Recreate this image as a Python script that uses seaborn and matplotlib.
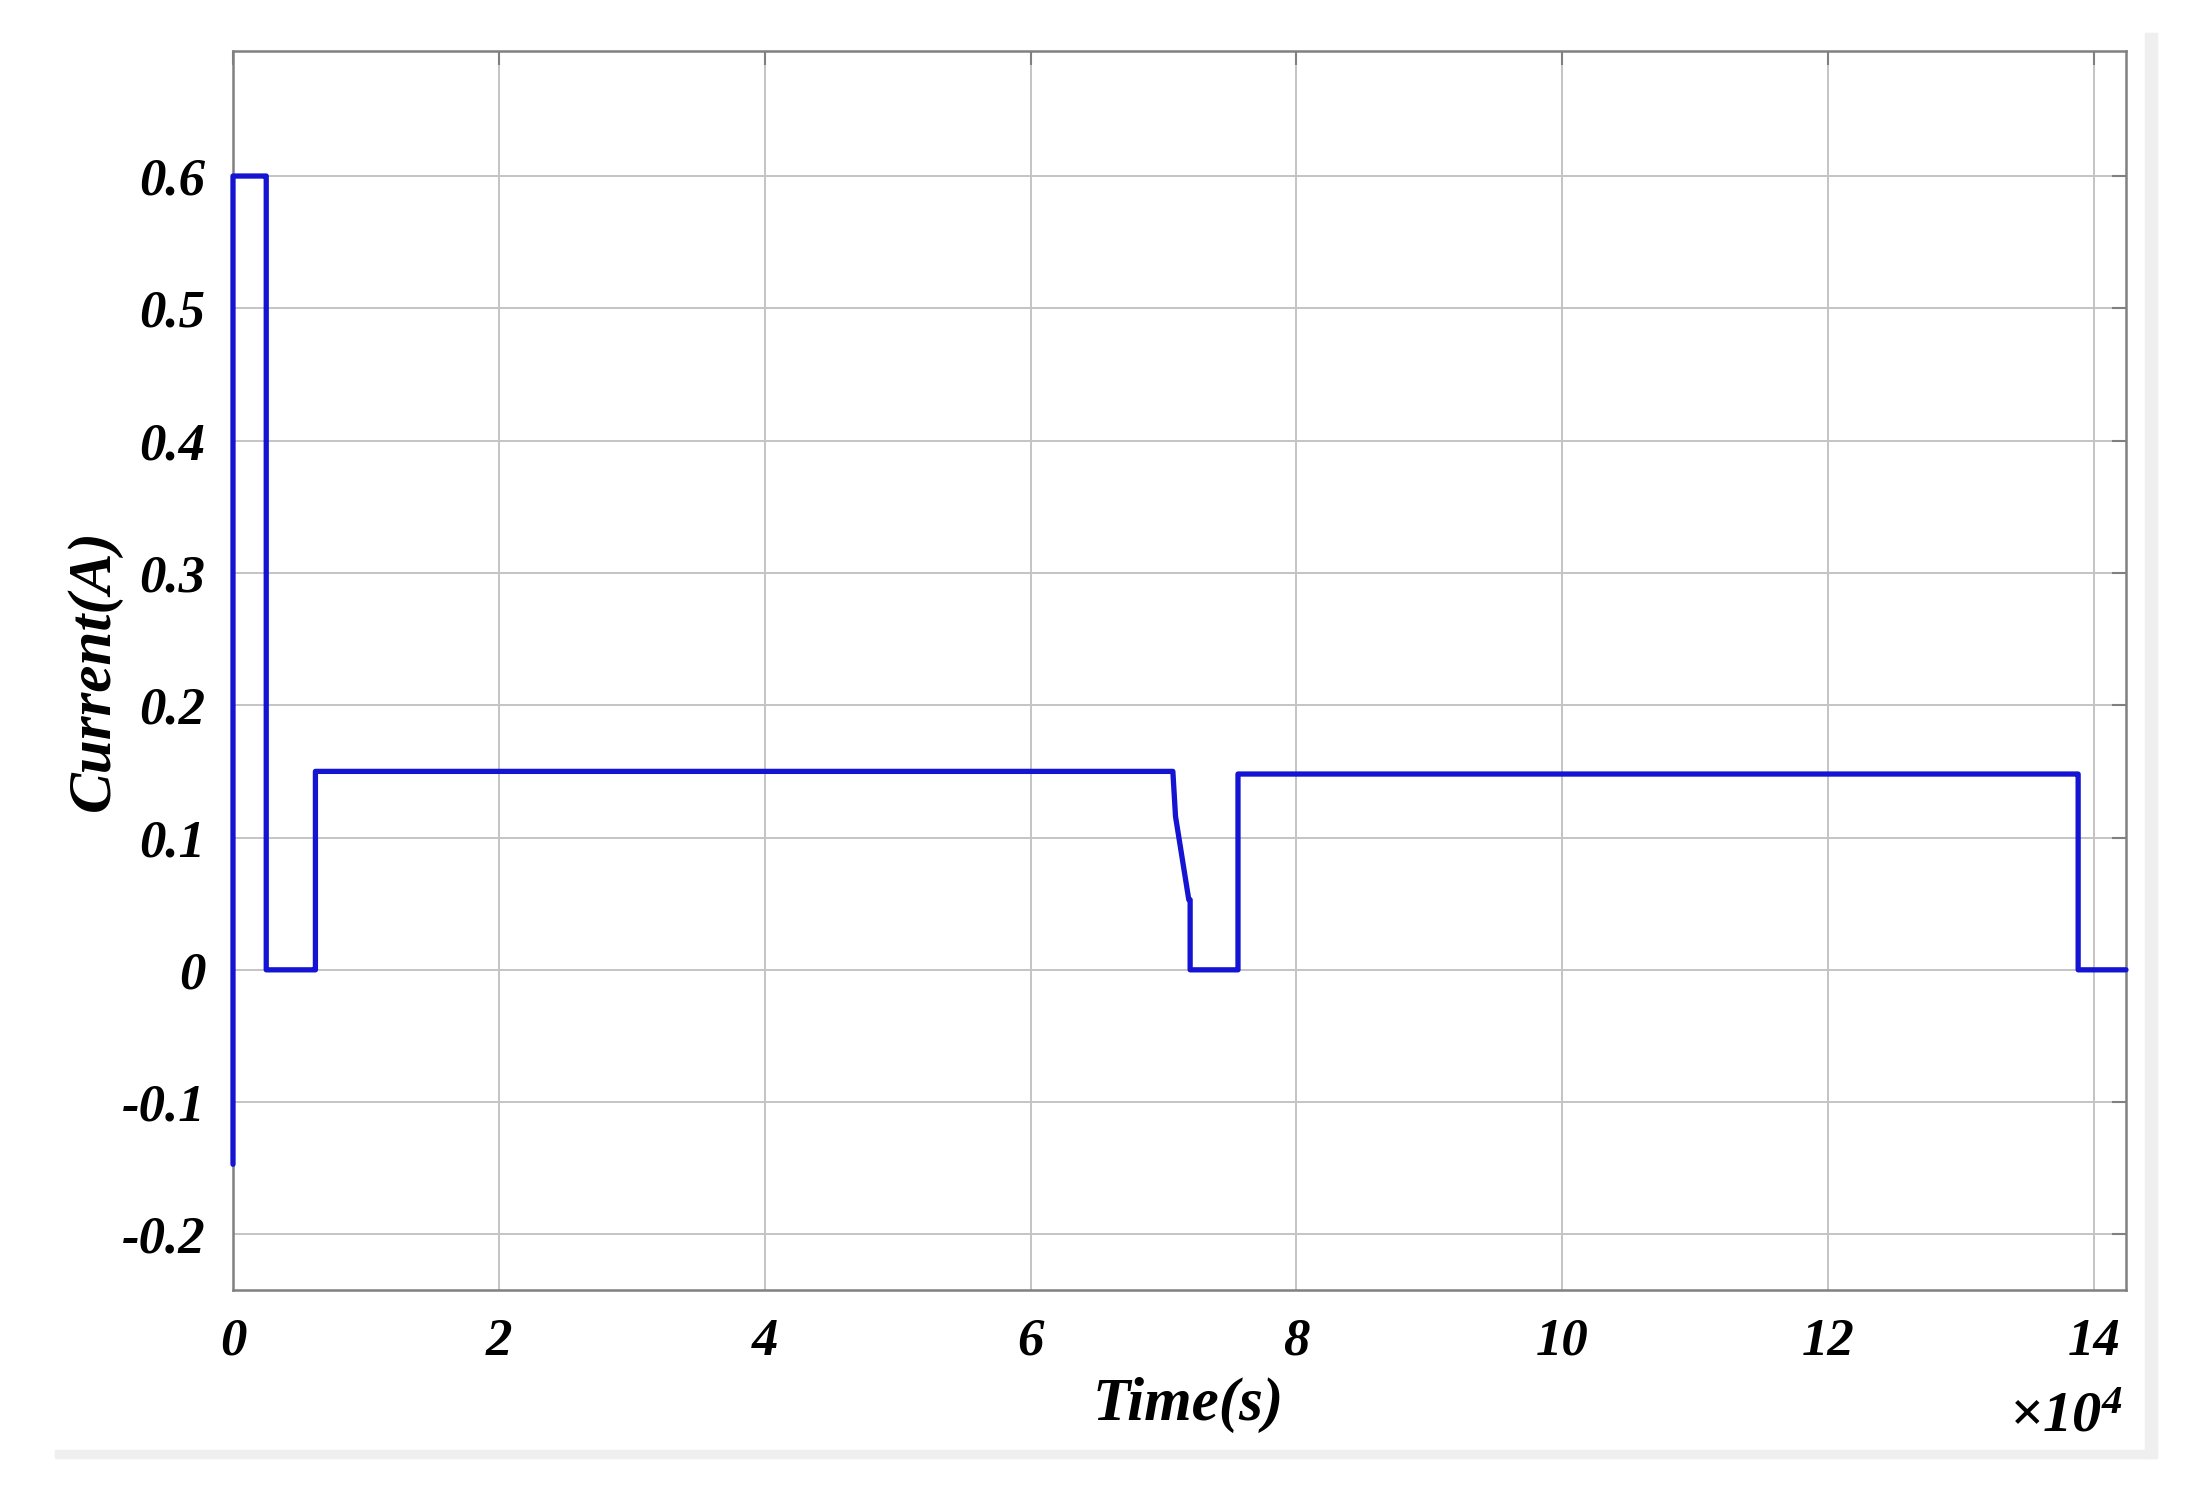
import numpy as np
import pandas as pd
import matplotlib
matplotlib.use("Agg")
import matplotlib.pyplot as plt
from matplotlib.patches import Rectangle
from matplotlib.ticker import FuncFormatter
import seaborn as sns

# current trace (time in s, current in A)
time_s = [0, 0, 0, 2300, 2500, 2500, 6000, 6200, 6200, 70700, 70900, 71900, 72000,
          72000, 75500, 75600, 75600, 138700, 138800, 138800, 142400]
current_a = [-0.147, 0.6, 0.6, 0.6, 0.6, 0.0, 0.0, 0.0, 0.15, 0.15, 0.116, 0.053, 0.053,
             0.0, 0.0, 0.0, 0.148, 0.148, 0.148, 0.0, 0.0]

x_ticks = [0, 2, 4, 6, 8, 10, 12, 14]
y_ticks = [-0.2, -0.1, 0, 0.1, 0.2, 0.3, 0.4, 0.5, 0.6]

df = pd.DataFrame({"time": time_s, "current": current_a})

sns.set_theme(style="white")
plt.rcParams["font.family"] = ["Liberation Serif", "DejaVu Serif"]
plt.rcParams["text.color"] = "black"
plt.rcParams["mathtext.fontset"] = "custom"
plt.rcParams["mathtext.rm"] = "Liberation Serif:bold:italic"
plt.rcParams["mathtext.it"] = "Liberation Serif:bold:italic"

fig = plt.figure(figsize=(21.94, 14.93), dpi=100)
fig.patch.set_facecolor("white")
ax = fig.add_axes([233 / 2194, 1 - 1290 / 1493, (2126 - 233) / 2194, (1290 - 51) / 1493])

sns.lineplot(data=df, x="time", y="current", ax=ax, color="#1414d2", linewidth=3.8,
             sort=False, estimator=None)
ax.lines[0].set_clip_on(False)
ax.lines[0].set_zorder(5)

ax.set_xlim(0, 142400)
ax.set_ylim(-0.242, 0.6945)
ax.set_xticks([t * 1e4 for t in x_ticks])
ax.xaxis.set_major_formatter(FuncFormatter(lambda v, p: f"{v / 1e4:g}"))
ax.set_yticks(y_ticks)
ax.yaxis.set_major_formatter(FuncFormatter(lambda v, p: "0" if abs(v) < 1e-9 else f"{v:.1f}"))

ax.grid(True, color="#c4c4c4", linewidth=1.4)
for s in ax.spines.values():
    s.set_visible(True)
    s.set_color("#808080")
    s.set_linewidth(1.8)
ax.tick_params(axis="both", direction="in", length=10, width=1.5, color="#808080",
               labelcolor="black", top=True, right=True, labelsize=38, pad=20)
for lab in ax.get_xticklabels() + ax.get_yticklabels():
    lab.set_fontweight("bold")
    lab.set_fontstyle("italic")

ax.set_xlabel("Time(s)", fontsize=44, fontweight="bold", fontstyle="italic", color="black",
              va="center")
ax.set_ylabel("Current(A)", fontsize=44, fontweight="bold", fontstyle="italic", color="black",
              va="center")
ax.xaxis.set_label_coords((1188 - 233) / (2126 - 233), -(1405 - 1290) / (1290 - 51))
ax.yaxis.set_label_coords(-(233 - 94) / (2126 - 233), 0.5)

fig.text(2122 / 2194, 1 - 1418 / 1493, r"$\times$$10^{4}$", fontsize=42, ha="right", va="center",
         fontweight="bold", fontstyle="italic")

# light gray frame at the bottom and right of the picture
fig.patches.append(Rectangle((55 / 2194, 1 - 1458 / 1493), (2157 - 55) / 2194, 8 / 1493,
                             transform=fig.transFigure, color="#efefef", zorder=0))
fig.patches.append(Rectangle((2145 / 2194, 1 - 1458 / 1493), 12 / 2194, (1458 - 33) / 1493,
                             transform=fig.transFigure, color="#efefef", zorder=0))

fig.savefig("out.png", dpi=100, facecolor="white")
